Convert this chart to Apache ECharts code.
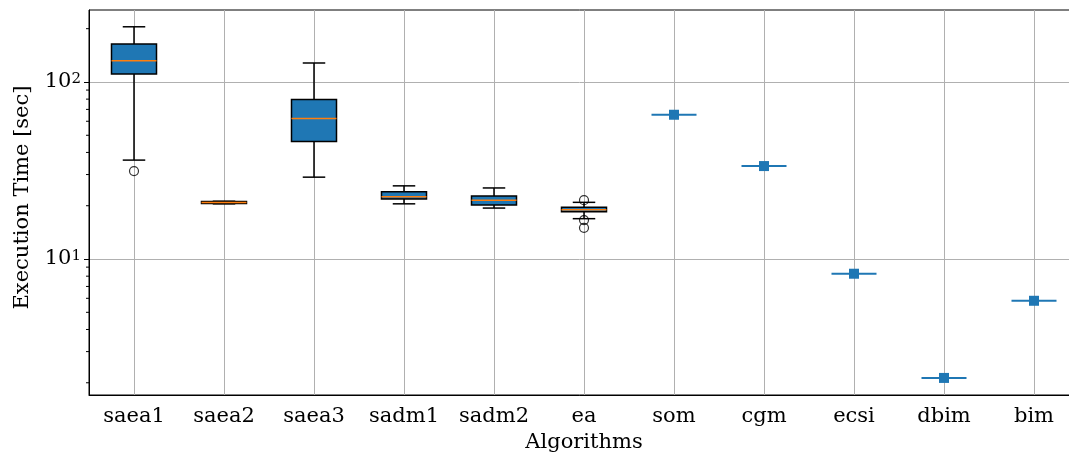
<!DOCTYPE html>
<html>
<head>
<meta charset="utf-8">
<script src="https://cdn.jsdelivr.net/npm/echarts@6/dist/echarts.min.js"></script>
<style>
  html, body { margin: 0; padding: 0; background: #fff; }
  #chart { width: 1069px; height: 454px; }
</style>
</head>
<body>
<div id="chart"></div>
<script>
// 类别
var categories = ['saea1', 'saea2', 'saea3', 'sadm1', 'sadm2', 'ea', 'som', 'cgm', 'ecsi', 'dbim', 'bim'];
// 箱线图: [index, low, q1, median, q3, high]
var boxStats = [
  [0, 36.2, 111, 132, 164, 205],
  [1, 20.5, 20.6, 20.85, 21.1, 21.2],
  [2, 29.0, 46.1, 62.2, 79.6, 128],
  [3, 20.5, 21.8, 22.5, 24.0, 25.9],
  [4, 19.4, 20.2, 21.5, 22.7, 25.2],
  [5, 16.9, 18.5, 19.0, 19.6, 20.9]
];
var outliers = [[0, 31.4], [5, 21.5], [5, 16.6], [5, 15.0]];
// 单值
var singleValues = [[6, 65.3], [7, 33.5], [8, 8.26], [9, 2.13], [10, 5.81]];
// 刻度
var majorTicks = [10, 100];
var minorTicks = [2, 3, 4, 5, 6, 7, 8, 9, 20, 30, 40, 50, 60, 70, 80, 90, 200];

var serif = 'DejaVu Serif';
var myChart = echarts.init(document.getElementById('chart'));

var option = {
  animation: false,
  grid: {
    left: 89, right: -10, top: 10, bottom: 59,
    outerBoundsMode: 'none',
    containLabel: false,
    show: true, borderColor: '#000', borderWidth: 1
  },
  xAxis: {
    type: 'category',
    data: categories,
    boundaryGap: true,
    name: 'Algorithms',
    nameLocation: 'middle',
    nameGap: 35,
    nameTextStyle: { fontFamily: serif, fontSize: 21, color: '#000' },
    axisLine: { lineStyle: { color: '#000', width: 1 } },
    axisTick: { alignWithLabel: true, length: 5, lineStyle: { color: '#000' } },
    axisLabel: { fontFamily: serif, fontSize: 21, color: '#000', margin: 11, interval: 0 },
    splitLine: { show: true, alignWithLabel: true, lineStyle: { color: '#b0b0b0', width: 1 } }
  },
  yAxis: {
    type: 'log',
    logBase: 10,
    min: 1.706,
    max: 255,
    name: 'Execution Time [sec]',
    nameLocation: 'middle',
    nameGap: 56,
    nameRotate: 90,
    nameTextStyle: { fontFamily: serif, fontSize: 21, color: '#000', padding: [0, 0, 0, 10] },
    axisLine: { show: true, lineStyle: { color: '#000', width: 1 } },
    axisTick: { show: true, length: 5, customValues: majorTicks, lineStyle: { color: '#000' } },
    axisLabel: {
      customValues: majorTicks,
      margin: 8,
      formatter: function (v) {
        var e = Math.round(Math.log10(v));
        return '{b|10}{s|' + e + '}';
      },
      rich: {
        b: { fontFamily: serif, fontSize: 21, color: '#000', verticalAlign: 'bottom' },
        s: { fontFamily: serif, fontSize: 15, color: '#000', verticalAlign: 'top' }
      }
    },
    splitLine: { show: true, lineStyle: { color: '#b0b0b0', width: 1 } }
  },
  series: [
    {
      // 小刻度
      type: 'custom',
      silent: true,
      clip: false,
      data: minorTicks.map(function (v) { return [0, v]; }),
      renderItem: function (params, api) {
        var y = api.coord([0, api.value(1)])[1];
        var x = params.coordSys.x;
        return {
          type: 'line',
          shape: { x1: x - 3, y1: y, x2: x, y2: y },
          style: { stroke: '#000', lineWidth: 1 }
        };
      }
    },
    {
      type: 'custom',
      data: boxStats,
      renderItem: function (params, api) {
        var idx = api.value(0);
        var band = api.size([1, 0])[0];
        var halfW = band * 0.25;
        var capW = band * 0.125;
        var pLow = api.coord([idx, api.value(1)]);
        var pQ1 = api.coord([idx, api.value(2)]);
        var pMed = api.coord([idx, api.value(3)]);
        var pQ3 = api.coord([idx, api.value(4)]);
        var pHigh = api.coord([idx, api.value(5)]);
        var cx = pMed[0];
        var black = { stroke: '#000', lineWidth: 1.5 };
        return {
          type: 'group',
          children: [
            { type: 'line', shape: { x1: cx, y1: pLow[1], x2: cx, y2: pQ1[1] }, style: black },
            { type: 'line', shape: { x1: cx, y1: pQ3[1], x2: cx, y2: pHigh[1] }, style: black },
            { type: 'line', shape: { x1: cx - capW, y1: pLow[1], x2: cx + capW, y2: pLow[1] }, style: black },
            { type: 'line', shape: { x1: cx - capW, y1: pHigh[1], x2: cx + capW, y2: pHigh[1] }, style: black },
            {
              type: 'rect',
              shape: { x: cx - halfW, y: pQ3[1], width: halfW * 2, height: pQ1[1] - pQ3[1] },
              style: { fill: '#1f77b4', stroke: '#000', lineWidth: 1.5 }
            },
            { type: 'line', shape: { x1: cx - halfW, y1: pMed[1], x2: cx + halfW, y2: pMed[1] }, style: { stroke: '#ff7f0e', lineWidth: 1.5 } }
          ]
        };
      }
    },
    {
      type: 'scatter',
      data: outliers,
      symbol: 'circle',
      symbolSize: 9,
      itemStyle: { color: 'rgba(0,0,0,0)', borderColor: '#000', borderWidth: 1.2 }
    },
    {
      type: 'custom',
      data: singleValues,
      renderItem: function (params, api) {
        var idx = api.value(0);
        var band = api.size([1, 0])[0];
        var halfW = band * 0.25;
        var p = api.coord([idx, api.value(1)]);
        return {
          type: 'group',
          children: [
            { type: 'line', shape: { x1: p[0] - halfW, y1: p[1], x2: p[0] + halfW, y2: p[1] }, style: { stroke: '#1f77b4', lineWidth: 2 } },
            { type: 'rect', shape: { x: p[0] - 5, y: p[1] - 5, width: 10, height: 10 }, style: { fill: '#1f77b4' } }
          ]
        };
      }
    }
  ]
};

option && myChart.setOption(option);
window.addEventListener('resize', function () {
  myChart.resize();
});
</script>
</body>
</html>
